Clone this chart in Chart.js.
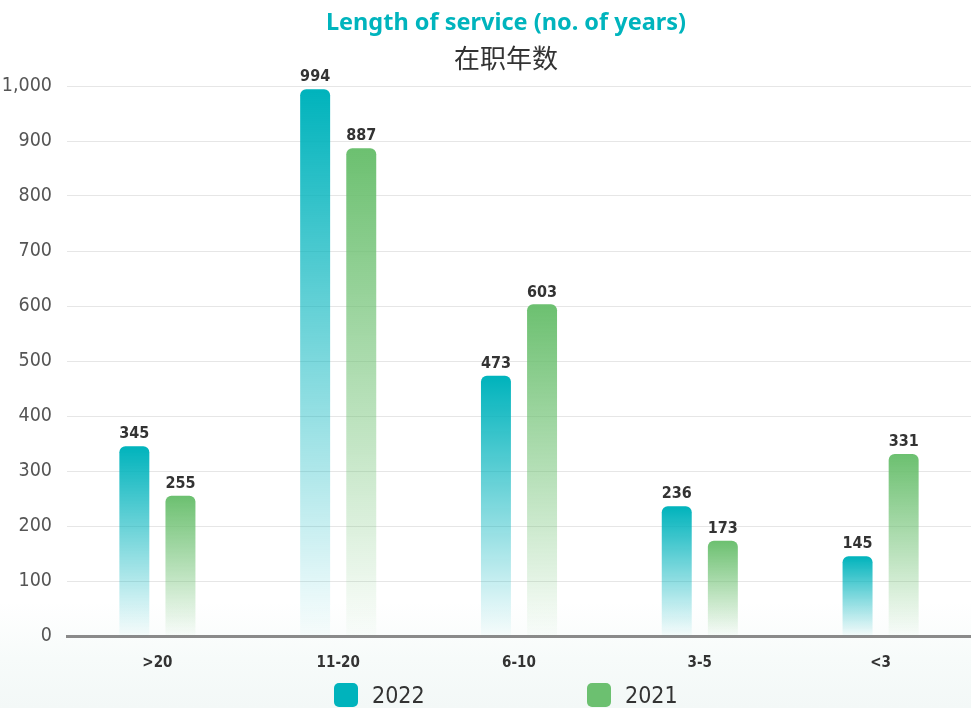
<!DOCTYPE html>
<html>
<head>
<meta charset="utf-8">
<script src="https://cdn.jsdelivr.net/npm/chart.js@4.4.1/dist/chart.umd.min.js"></script>
<style>
  html, body { margin:0; padding:0; }
  body {
    width:971px; height:708px; position:relative; overflow:hidden;
    background: linear-gradient(to bottom, #ffffff 0%, #ffffff 85%, #f7fbfa 93%, #f3f8f7 100%);
  }
  #wrap { position:absolute; left:0; top:0; width:971px; height:708px; }
  .titulo { position:absolute; left:306px; width:400px; text-align:center; white-space:nowrap; }
  #t1 { top:5px; font:bold 23.5px "Noto Sans", sans-serif; color:#00b4bd; }
  #t2 { top:38px; font:26px "Noto Sans CJK SC", sans-serif; color:#333; }
  .leg { position:absolute; top:682px; height:25px; display:flex; align-items:center;
         font:23px "DejaVu Sans Condensed", sans-serif; color:#333; }
  .leg span.cx { display:inline-block; width:24px; height:24px; border-radius:5px; margin-right:14px; }
</style>
</head>
<body>
<div id="wrap"><canvas id="grafico" width="971" height="708"></canvas></div>
<div class="titulo" id="t1">Length of service (no. of years)</div>
<div class="titulo" id="t2">在职年数</div>
<div class="leg" style="left:334px"><span class="cx" style="background:#00b3bc"></span>2022</div>
<div class="leg" style="left:587px"><span class="cx" style="background:#6cc070"></span>2021</div>
<script>
const categorias = ['>20', '11-20', '6-10', '3-5', '<3'];
const valores2022 = [345, 994, 473, 236, 145];
const valores2021 = [255, 887, 603, 173, 331];
const corTeal = [0, 179, 188];
const corVerde = [108, 192, 112];
const fonte = '"DejaVu Sans Condensed", "DejaVu Sans", sans-serif';

function gradiente(rgb){
    return function(ctx){
        const chart = ctx.chart;
        const area = chart.chartArea;
        if(!area || ctx.type !== 'data') return 'rgb(' + rgb.join(',') + ')';
        const y = chart.scales.y;
        const topo = y.getPixelForValue(ctx.raw);
        const base = y.getPixelForValue(0);
        const g = chart.ctx.createLinearGradient(0, topo, 0, base);
        g.addColorStop(0, 'rgba(' + rgb.join(',') + ',1)');
        g.addColorStop(1, 'rgba(' + rgb.join(',') + ',0.02)');
        return g;
    };
}

const rotulos = {
    id: 'rotulos',
    afterDatasetsDraw(chart){
        const c = chart.ctx;
        c.save();
        c.font = 'bold 16px ' + fonte;
        c.fillStyle = '#333';
        c.textAlign = 'center';
        c.textBaseline = 'bottom';
        chart.data.datasets.forEach((ds, i) => {
            chart.getDatasetMeta(i).data.forEach((bar, j) => {
                c.fillText(ds.data[j], bar.x, bar.y - 4);
            });
        });
        c.restore();
    }
};

new Chart(document.getElementById('grafico'), {
    type: 'bar',
    data: {
        labels: categorias,
        datasets: [
            { label: '2022', data: valores2022, backgroundColor: gradiente(corTeal),
              borderRadius: {topLeft:6, topRight:6}, borderSkipped: 'bottom' },
            { label: '2021', data: valores2021, backgroundColor: gradiente(corVerde),
              borderRadius: {topLeft:6, topRight:6}, borderSkipped: 'bottom' }
        ]
    },
    options: {
        responsive: false,
        animation: false,
        layout: { padding: { top: 86, right: 0, bottom: 18, left: 0 } },
        plugins: { legend: { display: false }, tooltip: { enabled: false } },
        datasets: { bar: { categoryPercentage: 0.51, barPercentage: 0.65 } },
        scales: {
            x: {
                grid: { display: false, drawTicks: false },
                border: { color: '#8a8a8a', width: 3 },
                ticks: { color: '#333', padding: 18, font: { family: fonte, size: 15, weight: 'bold' } }
            },
            y: {
                min: 0, max: 1000,
                afterFit(s){ s.width = 67; },
                grid: { color: '#e6e6e6', drawTicks: false },
                border: { display: false },
                ticks: { stepSize: 100, color: '#555', padding: 15,
                         font: { family: fonte, size: 19.5 },
                         callback: v => v.toLocaleString('en-US') }
            }
        }
    },
    plugins: [rotulos]
});
</script>
</body>
</html>
